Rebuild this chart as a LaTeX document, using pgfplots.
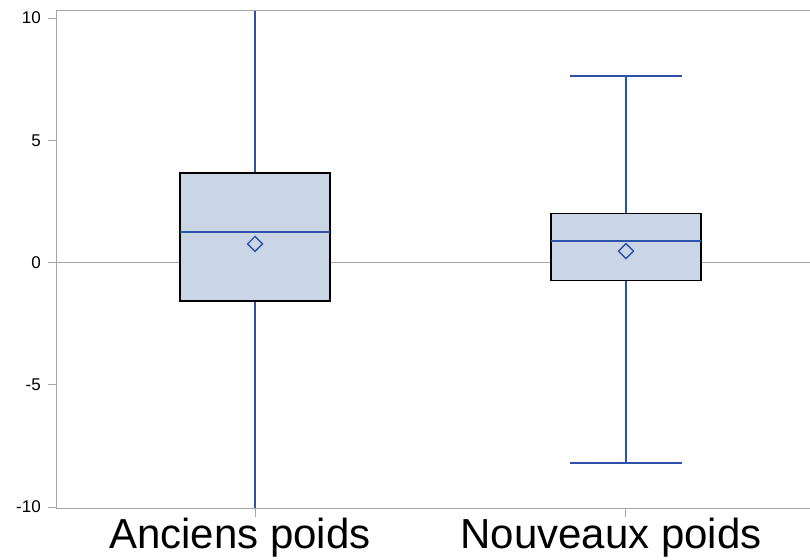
\documentclass[border=0pt]{standalone}
\usepackage{pgfplots}
\pgfplotsset{compat=1.18}
\usepgfplotslibrary{statistics}
\usepackage{fontspec}
\setmainfont{Liberation Sans}
\definecolor{boxfill}{HTML}{CAD5E6}
\definecolor{boxblue}{HTML}{2C52AA}
\definecolor{axgray}{HTML}{A6A6A6}
\begin{document}
\begin{tikzpicture}
\begin{axis}[
  name=ax,
  scale only axis, width=754bp, height=498bp,
  xmin=0.4636, xmax=2.496, ymin=-10.08, ymax=10.29,
  axis line style={draw=none},
  xtick={1,2}, xticklabels={Anciens poids, Nouveaux poids},
  ytick={-10,-5,0,5,10},
  tick align=outside, xtick pos=bottom, ytick pos=left,
  major tick length=8bp,
  tick style={axgray, line width=1bp},
  x tick label style={font=\fontsize{42bp}{42bp}\selectfont, inner sep=0pt, yshift=-1bp, xshift=-15bp},
  y tick label style={font=\fontsize{17bp}{17bp}\selectfont, inner sep=0pt, xshift=-7bp},
  /pgf/number format/assume math mode=true,
  extra y ticks={0}, extra y tick labels={},
  extra y tick style={grid=major, major grid style={axgray, line width=1bp}},
  boxplot/draw direction=y,
  boxplot/box extend=0.404,
  boxplot/whisker extend=0.30,
  boxplot/every box/.style={draw=black, line width=1.3bp, fill=boxfill},
  boxplot/every median/.style={draw=boxblue, line width=1.5bp},
]
\addplot[draw=boxblue, line width=1.3bp, solid,
  boxplot prepared={draw position=1, lower whisker=-12, lower quartile=-1.57,
    median=1.25, upper quartile=3.66, upper whisker=12}] coordinates {};
\addplot[draw=boxblue, line width=1.3bp, solid,
  boxplot prepared={draw position=2, lower whisker=-8.2, lower quartile=-0.72,
    median=0.88, upper quartile=2.02, upper whisker=7.63}] coordinates {};
\addplot[only marks, mark=square, mark size=5.3bp,
  mark options={rotate=45, draw=boxblue, line width=1.4bp, fill=none}]
  coordinates {(1,0.76) (2,0.47)};
\draw[axgray, line width=1bp] (rel axis cs:0,0) -- (rel axis cs:0,1) -- (rel axis cs:1,1);
\draw[axgray, line width=1bp] (rel axis cs:0,0) -- (rel axis cs:1,0);
\end{axis}
\pgfresetboundingbox
\path ([shift={(-56bp,-51bp)}]ax.south west) rectangle ([shift={(0bp,11bp)}]ax.north east);
\end{tikzpicture}
\end{document}
